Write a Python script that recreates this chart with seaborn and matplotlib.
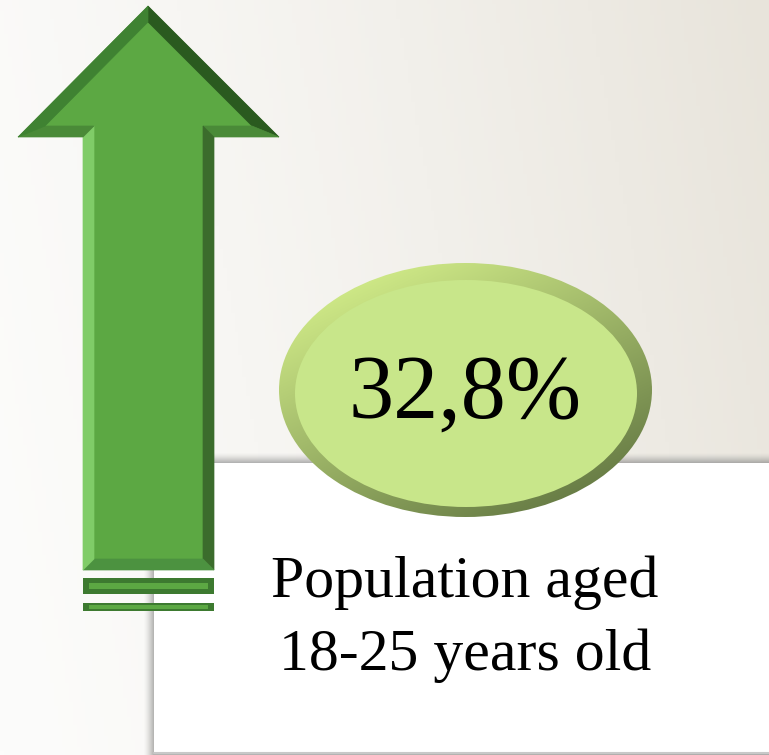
import numpy as np
import matplotlib.pyplot as plt
import seaborn as sns
from matplotlib.patches import Polygon, Ellipse, Rectangle

sns.set_style("white")

# Data
share_value = [32.8]
label_lines = ["Population aged", "18-25 years old"]
value_label = [f"{v:.1f}".replace(".", ",") + "%" for v in share_value]

W, H = 769, 755
fig = plt.figure(figsize=(W / 100, H / 100), dpi=100)
ax = fig.add_axes([0, 0, 1, 1])
ax.set_xlim(0, W)
ax.set_ylim(H, 0)
ax.axis("off")

# background gradient (white left -> beige right)
xx, yy = np.meshgrid(np.linspace(0, 1, 200), np.linspace(0, 1, 200))
t = np.clip(0.85 * xx + 0.15 * (1 - yy), 0, 1) ** 1.3
left = np.array([252, 252, 251]) / 255
right = np.array([232, 228, 219]) / 255
bg = left[None, None, :] * (1 - t[..., None]) + right[None, None, :] * t[..., None]
ax.imshow(bg, extent=[0, W, H, 0], aspect="auto", zorder=0)

# white box with soft shadow
box_x, box_y = 154, 463
for i in range(10):
    a = 0.05 + 0.035 * i
    ax.add_patch(Rectangle((box_x - 10 + i, box_y - 10 + i), W, H,
                           facecolor=(0.45, 0.45, 0.45, a * 0.3), edgecolor="none", zorder=1))
ax.add_patch(Rectangle((box_x, box_y), W, H - box_y - 2, facecolor="white",
                       edgecolor="none", zorder=2))
ax.plot([box_x, W], [H - 2, H - 2], color="#c8c8c8", lw=1.5, zorder=2)

# arrow with bevels
outer = [(148, 6), (279, 137), (214, 137), (214, 570), (83, 570), (83, 137), (18, 137)]
inner = [(148, 22), (252, 126), (203, 126), (203, 559), (94, 559), (94, 126), (45, 126)]
facet_colors = ["#2a5a1f", "#4a8a38", "#3b6c2c", "#4c9240", "#80cc68", "#4a8a38", "#3f8232"]
ax.add_patch(Polygon(outer, closed=True, facecolor="#5ca843", edgecolor="none", zorder=4))
for i in range(len(outer)):
    j = (i + 1) % len(outer)
    quad = [outer[i], outer[j], inner[j], inner[i]]
    ax.add_patch(Polygon(quad, closed=True, facecolor=facet_colors[i],
                         edgecolor=facet_colors[i], lw=0.5, zorder=5))

# stripes under the shaft
for y0, h in [(578, 16), (603, 8)]:
    ax.add_patch(Rectangle((83, y0), 131, h, facecolor="#3d7a30", edgecolor="none", zorder=4))
    ax.add_patch(Rectangle((89, y0 + h * 0.3), 119, h * 0.4, facecolor="#5ca843",
                           edgecolor="none", zorder=5))

# ellipse badge with gradient rim
cx, cy = 465.5, 390
rim = Ellipse((cx, cy), 373, 254, facecolor="none", edgecolor="none", zorder=6)
ax.add_patch(rim)
gx, gy = np.meshgrid(np.linspace(0, 1, 200), np.linspace(0, 1, 200))
g = np.clip(0.45 * gx + 0.65 * gy - 0.05, 0, 1)
light = np.array([218, 245, 142]) / 255
dark = np.array([92, 112, 62]) / 255
rim_img = light[None, None, :] * (1 - g[..., None]) + dark[None, None, :] * g[..., None]
im = ax.imshow(rim_img, extent=[cx - 187, cx + 187, cy + 128, cy - 128],
               aspect="auto", zorder=6)
im.set_clip_path(rim)
ax.add_patch(Ellipse((466, 393.5), 342, 227, facecolor="#c8e68a", edgecolor="none", zorder=7))

ax.text(cx, 418, value_label[0], ha="center", va="baseline", fontsize=65,
        family="Liberation Serif", color="black", zorder=8)

# description text
for line, base in zip(label_lines, [597, 670]):
    ax.text(465, base, line, ha="center", va="baseline", fontsize=43,
            family="Liberation Serif", color="black", zorder=8)

fig.savefig("out.png", dpi=100)
